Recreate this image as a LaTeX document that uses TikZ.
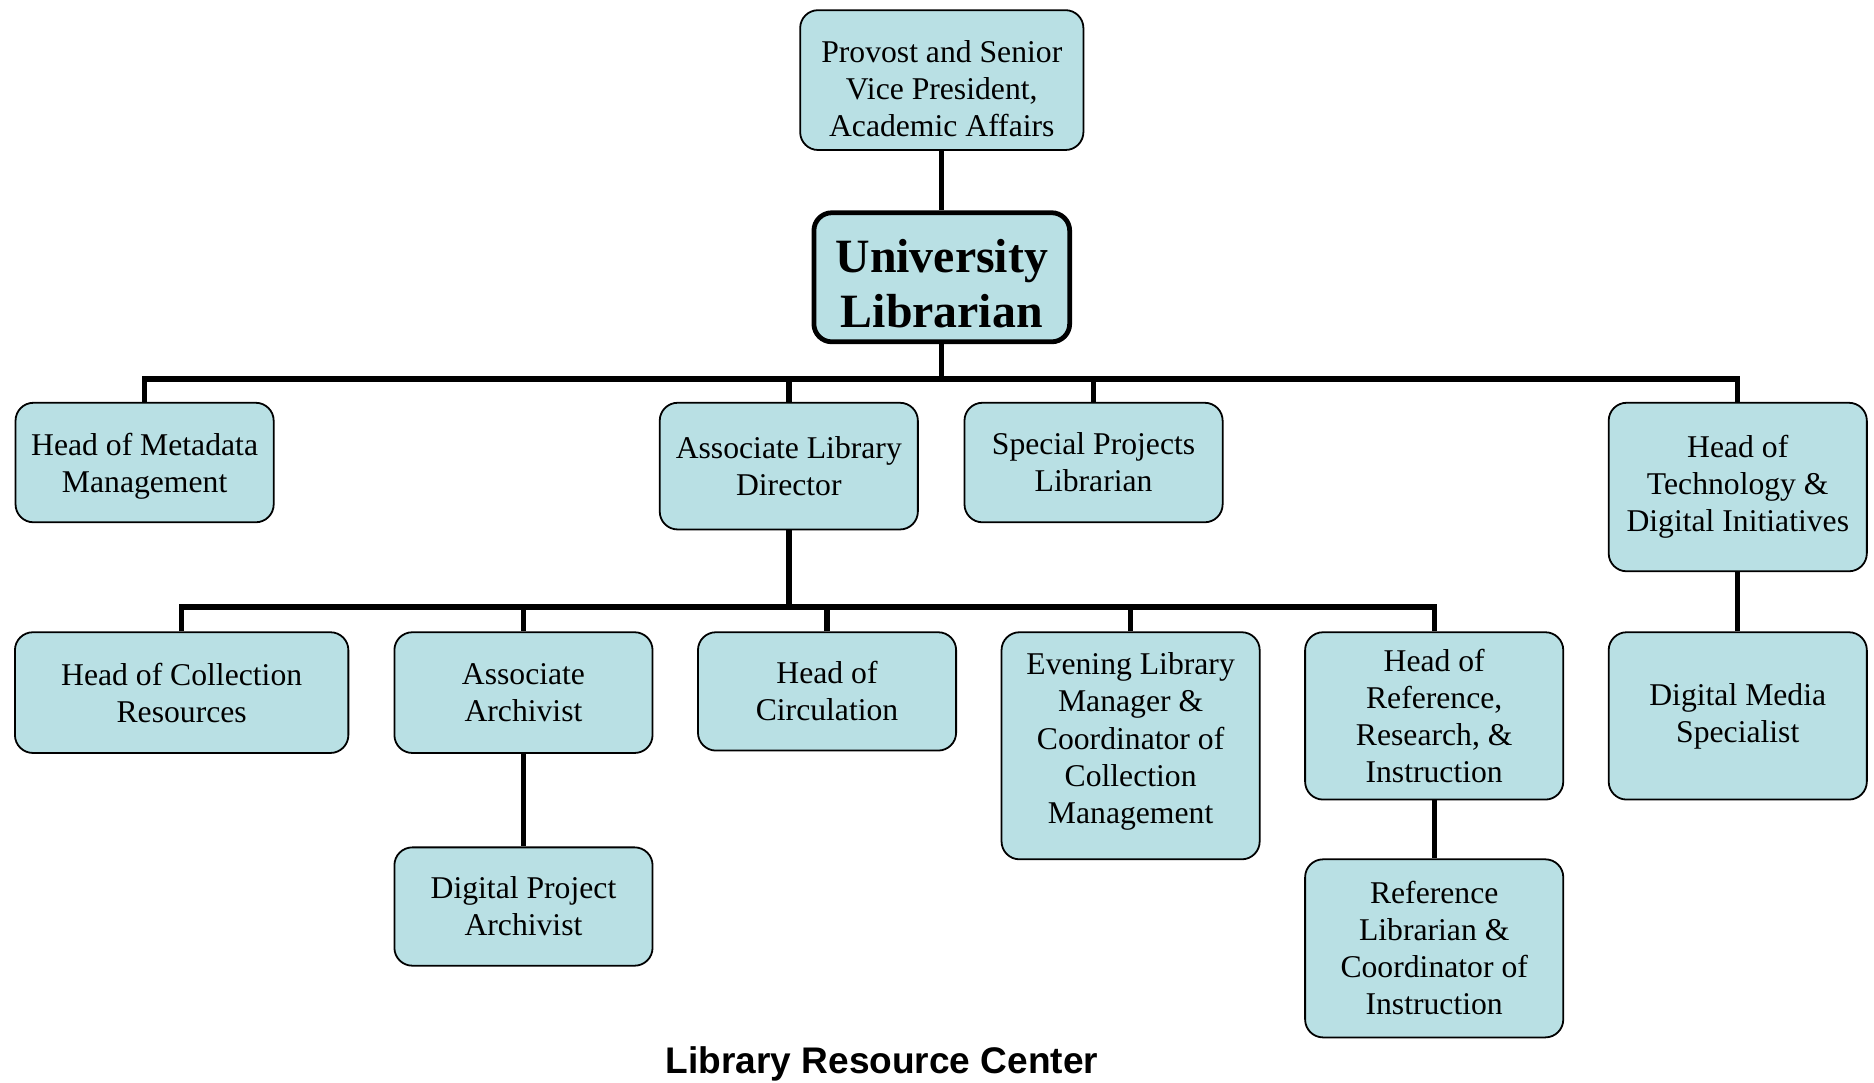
\documentclass[tikz,border=0pt]{standalone}
\usepackage{fontspec}
\setmainfont{Liberation Serif}
\newfontfamily\titlefont{Liberation Sans}
\definecolor{boxfill}{RGB}{185,224,228}
\begin{document}
\begin{tikzpicture}[x=1pt,y={(0pt,-1pt)},
  box/.style={draw=black, line width=1.5pt, fill=boxfill, rounded corners=15pt,
    align=center, inner sep=0pt, minimum width=216pt,
    font=\fontsize{26.5}{31}\selectfont},
  bigbox/.style={box, line width=4pt, font=\fontsize{40}{46}\selectfont\bfseries},
  conn/.style={line width=4.5pt, line join=miter}]
\useasboundingbox (0,0) rectangle (1568,906);

% top
\node[box, minimum width=237pt, minimum height=117pt] (prov) at (788,67) {\mbox{}\\[2pt]Provost and Senior\\Vice President,\\Academic Affairs};
\node[bigbox, minimum width=214pt, minimum height=108pt] (ul) at (788,232) {\mbox{}\\[-8pt]University\\Librarian};

% level 1
\node[box, minimum height=100pt] (meta) at (121,387) {\mbox{}\\[-6pt]Head of Metadata\\Management};
\node[box, minimum height=106pt] (ald) at (660,390) {Associate Library\\Director};
\node[box, minimum height=100pt] (spl) at (915,387) {Special Projects\\Librarian};
\node[box, minimum height=141pt] (tech) at (1454,407.5) {Head of\\Technology \&\\Digital Initiatives};

% level 2
\node[box, minimum width=279pt, minimum height=101pt] (coll) at (152,579.5) {Head of Collection\\Resources};
\node[box, minimum height=101pt] (aarch) at (438,579.5) {Associate\\Archivist};
\node[box, minimum height=99pt] (circ) at (692,578.5) {Head of\\Circulation};
\node[box, minimum height=190pt] (even) at (946,624) {Evening Library\\Manager \&\\Coordinator of\\Collection\\Management\\[-18pt]};
\node[box, minimum height=140pt] (ref) at (1200,599) {Head of\\Reference,\\Research, \&\\Instruction};
\node[box, minimum height=140pt] (dms) at (1454,599) {Digital Media\\Specialist};

% level 3
\node[box, minimum height=99pt] (dpa) at (438,758.5) {Digital Project\\Archivist};
\node[box, minimum height=149pt] (rlib) at (1200,793.5) {Reference\\Librarian \&\\Coordinator of\\Instruction};

% title
\node[font=\fontsize{31}{36}\titlefont\bfseries] (title) at (738,890) {Library Resource Center};

% connectors
\coordinate (bus1) at (788,317);
\coordinate (bus2) at (660,508);
\draw[conn] (prov.south) -- (ul.north);
\draw[conn] (ul.south) -- (bus1);
\draw[conn] (meta.north) |- (bus1);
\draw[conn] (ald.north) |- (bus1);
\draw[conn] (spl.north) |- (bus1);
\draw[conn] (tech.north) |- (bus1);
\draw[conn] (ald.south) -- (bus2);
\draw[conn] (coll.north) |- (bus2);
\draw[conn] (aarch.north) |- (bus2);
\draw[conn] (circ.north) |- (bus2);
\draw[conn] (even.north) |- (bus2);
\draw[conn] (ref.north) |- (bus2);
\draw[conn] (tech.south) -- (dms.north);
\draw[conn] (aarch.south) -- (dpa.north);
\draw[conn] (ref.south) -- (rlib.north);
\end{tikzpicture}
\end{document}
